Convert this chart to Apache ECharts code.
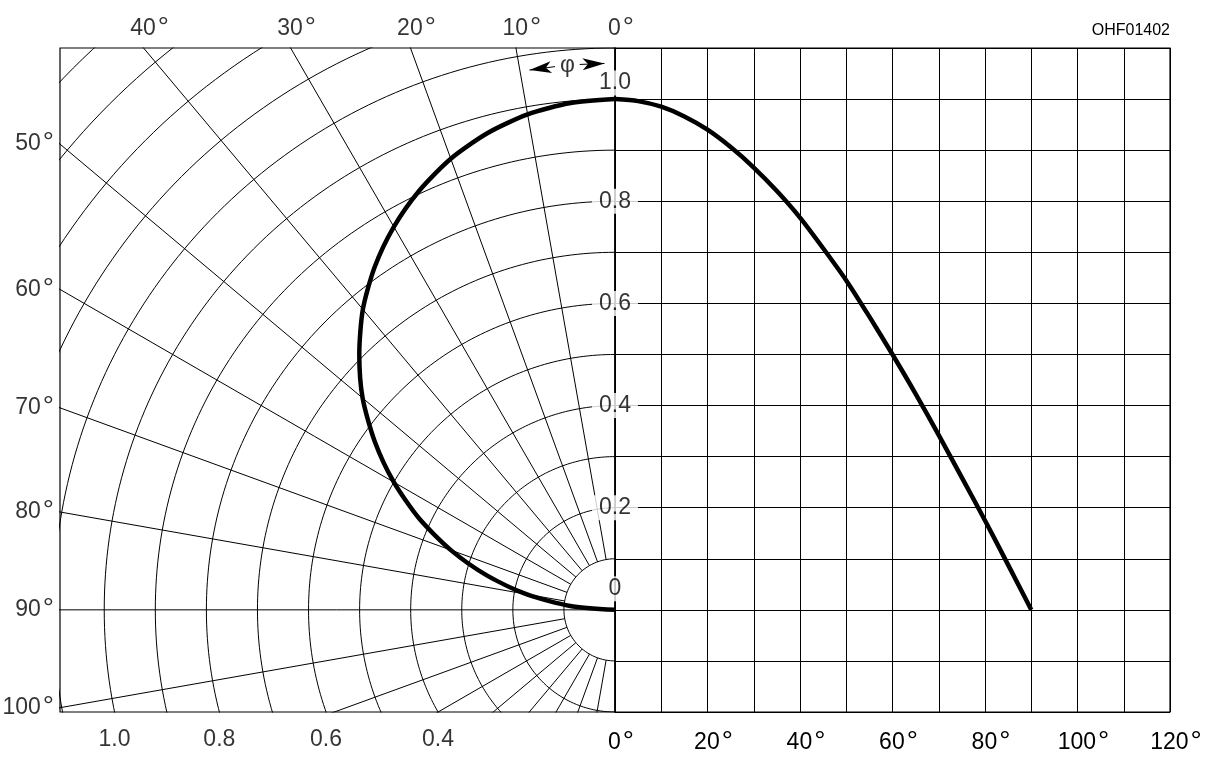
<!DOCTYPE html>
<html><head><meta charset="utf-8">
<script src="https://cdn.jsdelivr.net/npm/echarts@6/dist/echarts.min.js"></script>
<style>html,body{margin:0;padding:0;background:#fff}#c{width:1217px;height:764px}</style>
</head><body><div id="c"></div>
<script>
// ---------- data ----------
const angles = [0,5,10,15,20,25,30,35,40,45,50,55,60,65,70,75,80,85,90];
const intensity = [1.0,0.996,0.985,0.966,0.94,0.906,0.866,0.82,0.768,0.708,0.645,0.574,0.5,0.423,0.342,0.259,0.175,0.088,0];
const radiusRings = [0.1,0.2,0.3,0.4,0.5,0.6,0.7,0.8,0.9,1.0,1.1,1.2,1.3,1.4,1.5,1.6];
const spokeAngles = [0,10,20,30,40,50,60,70,80,90,100,110,120,130,140,150,160,170,180];
const topAngleLabels = [0,10,20,30,40];
const sideAngleLabels = [50,60,70,80,90,100];
const bottomRadiusLabels = [1.0,0.8,0.6,0.4];
const centerIntensityLabels = [1.0,0.8,0.6,0.4,0.2,0];
const xDegreeLabels = [0,20,40,60,80,100,120];
const drawingCode = 'OHF01402';
const phiSymbol = 'φ';

// ---------- layout ----------
const GL = 60, GT = 48, GW = 555, GH = 664;
const YMIN = -0.2, YMAX = 1.1;
const S = GH / (YMAX - YMIN);
const XMIN = -GW / S;
const F = "'Liberation Sans',Arial,sans-serif";
const FS = 23;
const rad = d => d * Math.PI / 180;
const pol = (r, d) => [-r * Math.sin(rad(d)), r * Math.cos(rad(d))];
const rich = {
  n: {fontFamily: F, fontSize: FS, color: '#000'},
  d: {fontFamily: F, fontSize: 28, color: '#000', padding: [0, 0, 1, 2]}
};
const deg = v => '{n|' + v + '}{d|°}';

const series = [];
const thin = {color: '#000', width: 1};
radiusRings.forEach(r => {
  const pts = [];
  for (let a = 0; a <= 180; a++) pts.push(pol(r, a));
  series.push({type: 'line', xAxisIndex: 0, yAxisIndex: 0, data: pts, symbol: 'none',
    lineStyle: thin, silent: true, clip: true, z: 1});
});
spokeAngles.forEach(a => {
  const r0 = (a % 90 === 0) ? 0 : 0.1;
  series.push({type: 'line', xAxisIndex: 0, yAxisIndex: 0, data: [pol(r0, a), pol(2.4, a)],
    symbol: 'none', lineStyle: thin, silent: true, clip: true, z: 1});
});
// curve, polar half
series.push({type: 'line', xAxisIndex: 0, yAxisIndex: 0, symbol: 'none', clip: true, z: 5, smooth: 0.25,
  data: intensity.map((v, i) => pol(v, angles[i])), lineStyle: {color: '#000', width: 4.5, join: 'round'}});
// curve, cartesian half
series.push({type: 'line', xAxisIndex: 1, yAxisIndex: 1, symbol: 'none', clip: true, z: 5, smooth: 0.25,
  data: intensity.map((v, i) => [angles[i], v]), lineStyle: {color: '#000', width: 4.5, join: 'round'}});

// angle labels along the top edge
series.push({type: 'scatter', xAxisIndex: 0, yAxisIndex: 0, symbolSize: 0, clip: false, silent: true, z: 10,
  data: topAngleLabels.map(a => ({value: [-YMAX * Math.tan(rad(a)), YMAX], name: String(a)})),
  label: {show: true, position: 'top', distance: 5, offset: [6, 0], formatter: p => deg(p.name), rich}});
// angle labels along the left edge
series.push({type: 'scatter', xAxisIndex: 0, yAxisIndex: 0, symbolSize: 0, clip: false, silent: true, z: 10,
  data: sideAngleLabels.map(a => ({value: [XMIN, -XMIN / Math.tan(rad(a))], name: String(a)})),
  label: {show: true, position: 'left', distance: 6, formatter: p => deg(p.name), rich}});
// radius labels along the bottom edge
series.push({type: 'scatter', xAxisIndex: 0, yAxisIndex: 0, symbolSize: 0, clip: false, silent: true, z: 10,
  data: bottomRadiusLabels.map(r => ({value: [-Math.sqrt(r * r - YMIN * YMIN), YMIN], name: r.toFixed(1)})),
  label: {show: true, position: 'bottom', distance: 16, formatter: p => p.name,
    fontFamily: F, fontSize: FS, color: '#000'}});
// intensity labels on the centre line
series.push({type: 'scatter', xAxisIndex: 1, yAxisIndex: 1, symbolSize: 0, clip: false, silent: true, z: 12,
  data: centerIntensityLabels.map(v => ({value: [0, v], name: v === 0 ? '0' : v.toFixed(1),
    label: {offset: v === 1 ? [0, -16] : (v === 0 ? [0, -21] : [0, 0])}})),
  label: {show: true, position: 'inside', formatter: p => p.name, fontFamily: F, fontSize: FS, color: '#000',
    backgroundColor: '#fff', padding: [1, 7]}});
// phi marker with arrows
const phiR = 1.07;
series.push({type: 'scatter', xAxisIndex: 0, yAxisIndex: 0, symbolSize: 0, clip: false, silent: true, z: 12,
  data: [{value: pol(phiR, 5), name: phiSymbol}],
  label: {show: true, position: 'inside', formatter: p => p.name, fontFamily: F, fontSize: FS, color: '#000'},
  markLine: {silent: true, animation: false, symbol: ['none', 'arrow'], label: {show: false},
    lineStyle: {color: '#000', width: 1, type: 'solid'},
    emphasis: {disabled: true},
    data: [
      [{coord: pol(phiR, 6.3), symbolSize: 0}, {coord: pol(phiR, 9.0), symbolSize: [9, 22]}],
      [{coord: pol(phiR, 3.7), symbolSize: 0}, {coord: pol(phiR, 1.1), symbolSize: [9, 22]}]
    ]}});

const option = {
  animation: false,
  backgroundColor: '#fff',
  title: {text: drawingCode, right: 1217 - GL - 2 * GW, top: 23, padding: 0,
    textStyle: {fontFamily: "'Liberation Sans',Arial,sans-serif", fontSize: 16, fontWeight: 'normal', color: '#000'}},
  grid: [
    {left: GL, top: GT, width: GW, height: GH, show: true, borderColor: '#000', borderWidth: 1.2, backgroundColor: 'transparent'},
    {left: GL + GW, top: GT, width: GW, height: GH, show: true, borderColor: '#000', borderWidth: 1.2, backgroundColor: 'transparent'}
  ],
  xAxis: [
    {gridIndex: 0, type: 'value', min: XMIN, max: 0, show: false},
    {gridIndex: 1, type: 'value', min: 0, max: 120, interval: 10,
      axisLine: {show: false}, axisTick: {show: false},
      splitLine: {show: true, lineStyle: {color: '#000', width: 1}},
      axisLabel: {margin: 16, padding: [0, 0, 0, 12],
        formatter: v => xDegreeLabels.indexOf(v) >= 0 ? deg(v) : '', rich}}
  ],
  yAxis: [
    {gridIndex: 0, type: 'value', min: YMIN, max: YMAX, show: false},
    {gridIndex: 1, type: 'value', min: YMIN, max: YMAX, interval: 0.1,
      axisLine: {show: false}, axisTick: {show: false}, axisLabel: {show: false},
      splitLine: {show: true, lineStyle: {color: '#000', width: 1}}}
  ],
  series
};
const chart = echarts.init(document.getElementById('c'), null, {renderer: 'canvas'});
chart.setOption(option);
</script></body></html>
